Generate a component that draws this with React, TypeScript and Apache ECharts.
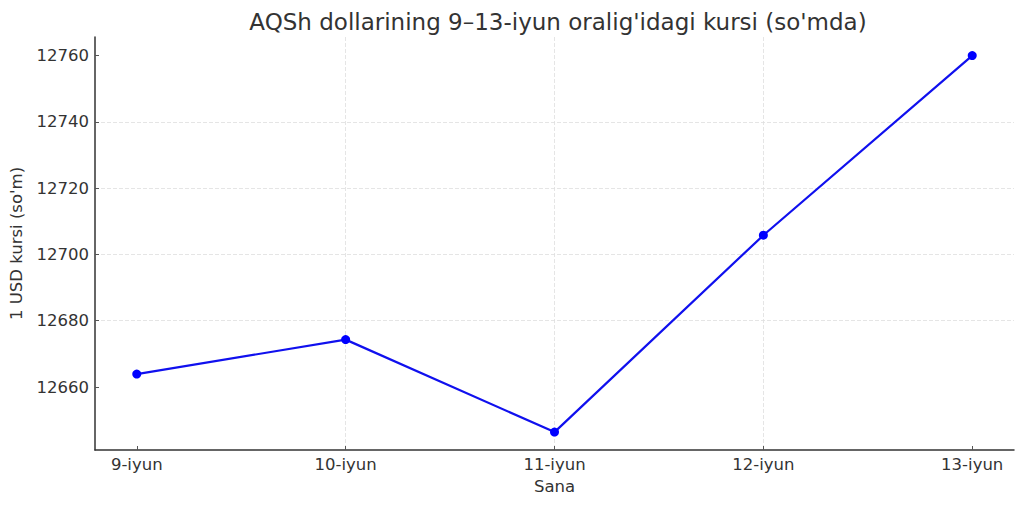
import React, { useEffect, useRef } from "react";
import * as echarts from "echarts";

const categories = ["9-iyun", "10-iyun", "11-iyun", "12-iyun", "13-iyun"];
const rates = [12663.9, 12674.3, 12646.4, 12705.8, 12760.0];
const yTicks = [12660, 12680, 12700, 12720, 12740, 12760];
const xTicks = [0, 1, 2, 3, 4];

const FONT = "DejaVu Sans";

export default function App() {
  const ref = useRef<HTMLDivElement>(null);
  useEffect(() => {
    if (!ref.current) return;
    const chart = echarts.init(ref.current, null, { renderer: "svg" });
    chart.setOption({
      animation: false,
      backgroundColor: "#ffffff",
      title: {
        text: "AQSh dollarining 9–13-iyun oralig'idagi kursi (so'mda)",
        left: 553,
        textAlign: "center",
        top: 5,
        textStyle: { fontFamily: FONT, fontSize: 23, fontWeight: "normal", color: "#333333" },
      },
      grid: { left: 93, right: 10, top: 37, bottom: 56, containLabel: false },
      xAxis: {
        type: "value",
        min: -0.2,
        max: 4.2,
        minInterval: 1,
        maxInterval: 1,
        name: "Sana",
        nameLocation: "middle",
        nameGap: 27,
        nameTextStyle: { fontFamily: FONT, fontSize: 16.5, color: "#333333" },
        axisLine: { show: true, onZero: false, lineStyle: { color: "#333333", width: 1.5 } },
        axisTick: { show: true, inside: true, length: 4, customValues: xTicks, lineStyle: { color: "#555555" } },
        axisLabel: {
          customValues: xTicks,
          margin: 6,
          fontFamily: FONT,
          fontSize: 16.5,
          color: "#333333",
          formatter: (v: number) => categories[Math.round(v)] ?? "",
        },
        splitLine: {
          show: true,
          showMinLine: false,
          showMaxLine: false,
          lineStyle: { color: "#dedede", type: [4, 2], width: 0.8 },
        },
      },
      yAxis: {
        type: "value",
        min: 12641,
        max: 12765.6,
        minInterval: 20,
        maxInterval: 20,
        name: "1 USD kursi (so'm)",
        nameLocation: "middle",
        nameGap: 70,
        nameTextStyle: { fontFamily: FONT, fontSize: 16.5, color: "#333333" },
        axisLine: { show: true, onZero: false, lineStyle: { color: "#333333", width: 1.5 } },
        axisTick: { show: true, inside: true, length: 4, customValues: yTicks, lineStyle: { color: "#555555" } },
        axisLabel: {
          customValues: yTicks,
          margin: 6,
          fontFamily: FONT,
          fontSize: 16.5,
          color: "#333333",
          formatter: (v: number) => String(v),
        },
        splitLine: {
          show: true,
          showMinLine: false,
          showMaxLine: false,
          lineStyle: { color: "#dedede", type: [4, 2], width: 0.8 },
        },
      },
      series: [
        {
          type: "line",
          data: rates.map((v, i) => [i, v]),
          symbol: "circle",
          symbolSize: 9,
          lineStyle: { color: "#1010ee", width: 2.2 },
          itemStyle: { color: "#0000ff" },
        },
      ],
    });
    return () => chart.dispose();
  }, []);
  return <div ref={ref} style={{ width: 1024, height: 506, position: "absolute", left: 0, top: 0 }} />;
}
